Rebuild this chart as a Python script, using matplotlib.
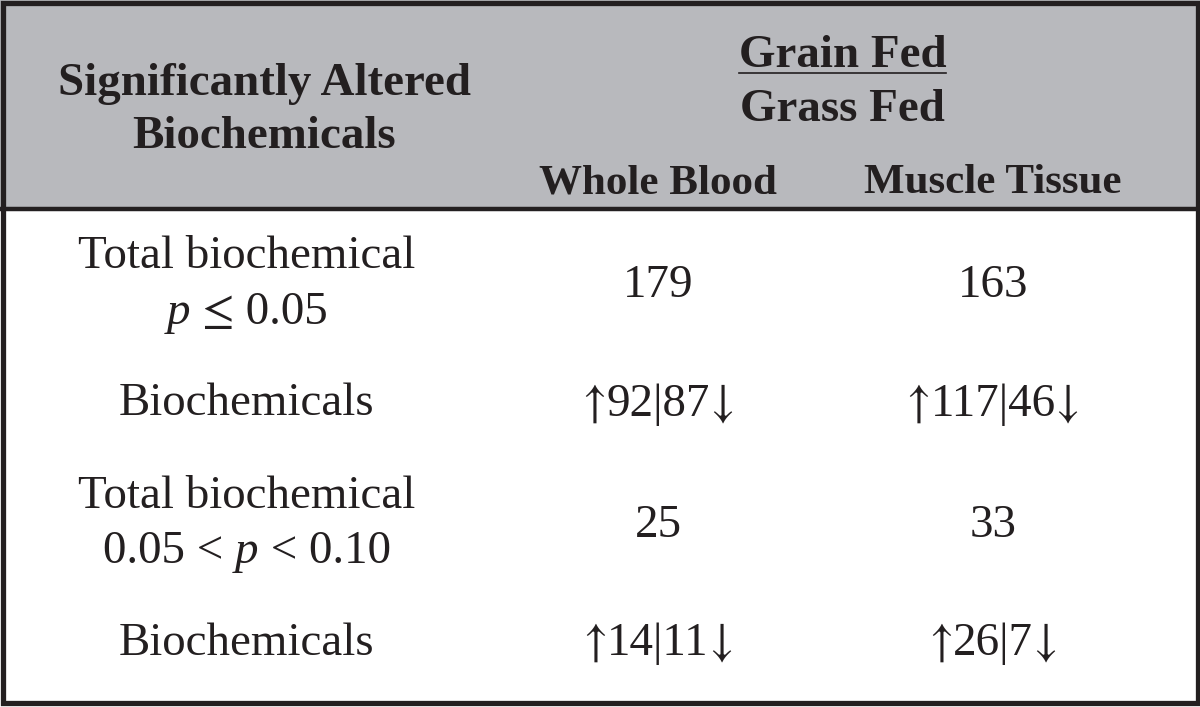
import matplotlib.pyplot as plt
plt.switch_backend('agg')
from matplotlib.patches import Rectangle

# table content
row_head = "Significantly Altered\nBiochemicals"
ratio_top = "Grain Fed"
ratio_bottom = "Grass Fed"
columns = ["Whole Blood", "Muscle Tissue"]

# each row label: list of lines, each line a list of (text, kind) runs
# kind: 'n' normal, 'i' italic, 'a' symbol (arrows)
row_labels = [
    [[("Total biochemical", 'n')], [("p", 'i'), (" ", 'n'), ("\u2264", 'a'), (" 0.05", 'n')]],
    [[("Biochemicals", 'n')]],
    [[("Total biochemical", 'n')], [("0.05 < ", 'n'), ("p", 'i'), (" < 0.10", 'n')]],
    [[("Biochemicals", 'n')]],
]
whole_blood = ["179", ("92", "87"), "25", ("14", "11")]
muscle_tissue = ["163", ("117", "46"), "33", ("26", "7")]

dark = "#231f20"
header_gray = "#b8b9bd"
serif = ["Liberation Serif", "DejaVu Serif"]
body_size = 33.8
head_size = 33.8
sub_size = 31

fig = plt.figure(figsize=(12, 7.07), dpi=100)
ax = fig.add_axes([0, 0, 1, 1])
ax.set_xlim(0, 1200)
ax.set_ylim(707, 0)
ax.axis('off')

# header band, separator and outer frame
ax.add_patch(Rectangle((0, 0), 1200, 207, facecolor=header_gray, edgecolor='none'))
ax.plot([0, 1200], [208.5, 208.5], color=dark, lw=3.2, solid_capstyle='butt')
ax.add_patch(Rectangle((2.5, 2.5), 1195, 700.5, facecolor='none', edgecolor=dark, lw=3.8))

col_x = [247, 658, 993]
head_x = 264
fig.canvas.draw()
renderer = fig.canvas.get_renderer()


def props(kind, size):
    if kind == 'a':
        return dict(fontsize=size, family=['STIXGeneral', 'DejaVu Serif'])
    return dict(fontsize=size, family=serif, style='italic' if kind == 'i' else 'normal')


def draw_runs(xc, y, runs, size):
    # measure each run, then place them side by side centred on xc
    widths = []
    for s, kind in runs:
        t = ax.text(0, 0, s, **props(kind, size))
        widths.append(t.get_window_extent(renderer).width)
        t.remove()
    x = xc - sum(widths) / 2
    for (s, kind), w in zip(runs, widths):
        ax.text(x, y, s, color=dark, ha='left', va='baseline', **props(kind, size))
        x += w


def value_runs(v):
    if isinstance(v, tuple):
        up, down = v
        return [("\u2191", 'a'), (up + "|" + down, 'n'), ("\u2193", 'a')]
    return [(v, 'n')]


# header texts
for line, yb in zip(row_head.split("\n"), [95, 148]):
    ax.text(head_x, yb, line, fontsize=head_size, family=serif, weight='bold',
            color=dark, ha='center', va='baseline')
mid = (col_x[1] + col_x[2]) / 2 + 17
t = ax.text(mid, 67, ratio_top, fontsize=head_size, family=serif, weight='bold',
            color=dark, ha='center', va='baseline')
bb = t.get_window_extent(renderer)
ax.plot([bb.x0, bb.x1], [73, 73], color=dark, lw=1.2)
ax.text(mid, 121, ratio_bottom, fontsize=head_size, family=serif, weight='bold',
        color=dark, ha='center', va='baseline')
for x, c in zip(col_x[1:], columns):
    ax.text(x, 193, c, fontsize=sub_size, family=serif, weight='bold',
            color=dark, ha='center', va='baseline')

# body rows
label_baselines = [[268, 324], [415], [508, 563], [655]]
value_baselines = [297, 416, 537, 655]
for lines, ybs, yv, wb, mt in zip(row_labels, label_baselines, value_baselines,
                                  whole_blood, muscle_tissue):
    for runs, yb in zip(lines, ybs):
        draw_runs(col_x[0], yb, runs, body_size)
    draw_runs(col_x[1], yv, value_runs(wb), body_size)
    draw_runs(col_x[2], yv, value_runs(mt), body_size)

fig.savefig("out.png", dpi=100)
